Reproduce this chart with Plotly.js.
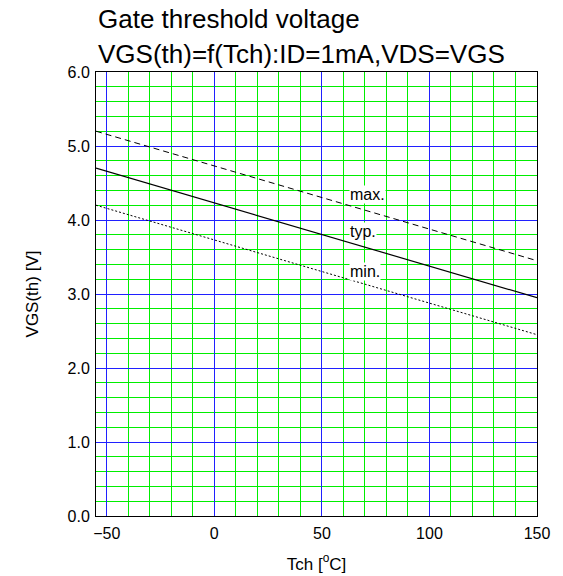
<!DOCTYPE html>
<html><head><meta charset="utf-8">
<script src="https://cdn.plot.ly/plotly-3.0.1.min.js"></script>
<style>html,body{margin:0;padding:0;background:#fff}#c{width:563px;height:576px}</style>
</head><body><div id="c"></div>
<script>
const tch = [-55, 150];
const vgsMax = [5.2, 3.45];
const vgsTyp = [4.7, 2.95];
const vgsMin = [4.2, 2.45];
const curveLabels = ['max.', 'typ.', 'min.'];
const labelX = [62.5, 62.5, 62.5];
const labelY = [4.34, 3.84, 3.31];
const xTickStep = 50;
const yTickStep = 1;

const font = 'Liberation Sans, Arial, sans-serif';
const traces = [
  {x: tch, y: vgsMax, mode: 'lines', line: {color: '#000', width: 1, dash: '6px,4px'}},
  {x: tch, y: vgsTyp, mode: 'lines', line: {color: '#000', width: 1.2}},
  {x: tch, y: vgsMin, mode: 'lines', line: {color: '#000', width: 1, dash: '2px,2px'}}
];
const ann = curveLabels.map((t, i) => ({
  x: labelX[i], y: labelY[i], xref: 'x', yref: 'y', text: t, showarrow: false,
  xanchor: 'left', yanchor: 'middle', bgcolor: '#fff', borderpad: 0,
  font: {family: font, size: 16, color: '#000'}
}));
ann.push({x: 0.0, y: 1.0 + 35.5 / 444, xref: 'paper', yref: 'paper', xanchor: 'left', yanchor: 'bottom',
  text: 'Gate threshold voltage', showarrow: false, font: {family: font, size: 26, color: '#000'}});
ann.push({x: 0.0, y: 1.0 + 1 / 444, xref: 'paper', yref: 'paper', xanchor: 'left', yanchor: 'bottom',
  text: 'VGS(th)=f(Tch):ID=1mA,VDS=VGS', showarrow: false, font: {family: font, size: 26, color: '#000'}});

const layout = {
  width: 563, height: 576,
  margin: {l: 96, r: 26, t: 72, b: 60},
  paper_bgcolor: '#fff', plot_bgcolor: '#fff',
  showlegend: false,
  font: {family: font, size: 16, color: '#000'},
  xaxis: {
    range: [-55, 150], tickmode: 'linear', tick0: 0, dtick: xTickStep,
    showgrid: true, gridcolor: '#2020ff', gridwidth: 1,
    minor: {tickmode: 'linear', dtick: 10, tick0: 0, showgrid: true, gridcolor: '#00ee00', gridwidth: 1, ticks: ''},
    showline: true, linecolor: '#000', linewidth: 1, mirror: true,
    zeroline: false, ticks: '', ticklabelstandoff: 3,
    tickfont: {family: font, size: 16},
    title: {text: 'Tch [<sup>o</sup>C]', font: {family: font, size: 17}, standoff: 16}
  },
  yaxis: {
    range: [0, 6], tickmode: 'linear', tick0: 0, dtick: yTickStep, tickformat: '.1f',
    showgrid: true, gridcolor: '#2020ff', gridwidth: 1,
    minor: {tickmode: 'linear', dtick: 0.2, tick0: 0, showgrid: true, gridcolor: '#00ee00', gridwidth: 1, ticks: ''},
    showline: true, linecolor: '#000', linewidth: 1, mirror: true,
    zeroline: false, ticks: '', ticklabelstandoff: 2,
    tickfont: {family: font, size: 16},
    title: {text: 'VGS(th) [V]', font: {family: font, size: 17}, standoff: 24}
  },
  annotations: ann
};
Plotly.newPlot('c', traces, layout, {displayModeBar: false, staticPlot: true});
</script></body></html>
